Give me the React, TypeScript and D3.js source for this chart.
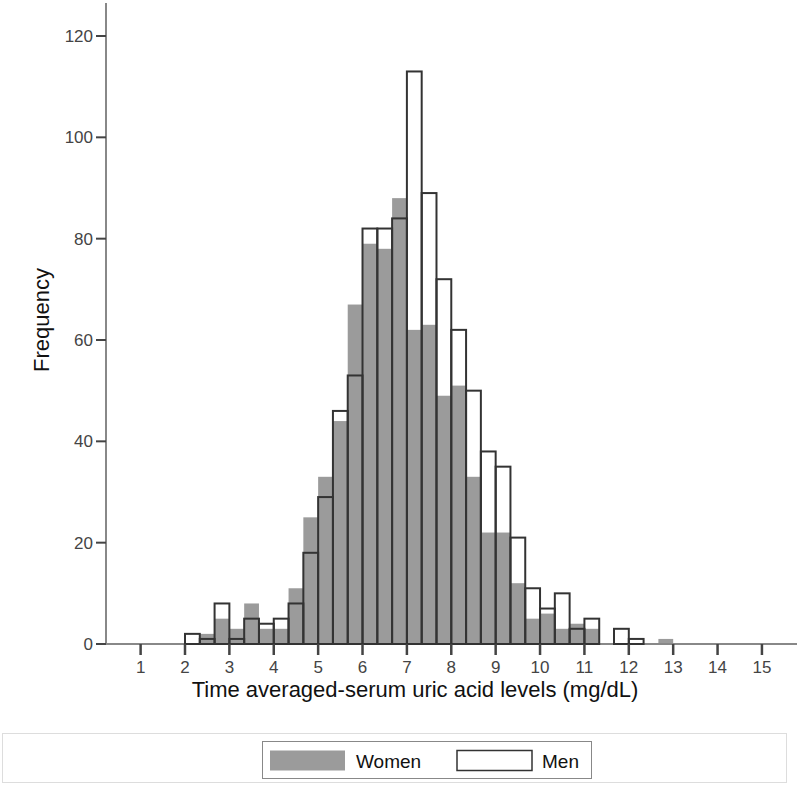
import React, { useEffect, useRef } from "react";
import * as d3 from "d3";

// histogram bins: width 1/3 mg/dL, first bin starts at 2.0
const binStart = 2;
const binWidth = 1 / 3;
const women = [0, 2, 5, 3, 8, 3, 3, 11, 25, 33, 44, 67, 79, 78, 88, 62, 63, 49, 51, 33, 22, 22, 12, 5, 6, 3, 4, 3, 0, 0, 0, 0, 1];
const men = [2, 1, 8, 1, 5, 4, 5, 8, 18, 29, 46, 53, 82, 82, 84, 113, 89, 72, 62, 50, 38, 35, 21, 11, 7, 10, 3, 5, 0, 3, 1, 0, 0];
const xTicks = [1, 2, 3, 4, 5, 6, 7, 8, 9, 10, 11, 12, 13, 14, 15];
const yTicks = [0, 20, 40, 60, 80, 100, 120];
const legendLabels = ["Women", "Men"];

const FONT = "'Liberation Sans', Arial, sans-serif";

export default function App() {
  const ref = useRef<SVGSVGElement>(null);

  useEffect(() => {
    document.body.style.margin = "0";
    const svg = d3.select(ref.current);
    svg.selectAll("*").remove();

    const w = 800, h = 785;
    svg.attr("width", w).attr("height", h);

    const x = d3.scaleLinear().domain([0.22, 15.79]).range([106, 797]);
    const y = d3.scaleLinear().domain([0, 120]).range([644, 36]);

    const binsW = women.map((v, i) => ({ x0: binStart + i * binWidth, v }));
    const binsM = men.map((v, i) => ({ x0: binStart + i * binWidth, v }));

    // women: filled grey
    svg.append("g")
      .selectAll("rect")
      .data(binsW.filter((d) => d.v > 0))
      .enter()
      .append("rect")
      .attr("x", (d) => x(d.x0))
      .attr("y", (d) => y(d.v))
      .attr("width", (d) => x(d.x0 + binWidth) - x(d.x0))
      .attr("height", (d) => y(0) - y(d.v))
      .attr("fill", "#9b9b9b");

    // axes lines
    svg.append("line")
      .attr("x1", 106).attr("x2", 106)
      .attr("y1", y(126.5)).attr("y2", y(0))
      .attr("stroke", "#888").attr("stroke-width", 2);
    svg.append("line")
      .attr("x1", 106).attr("x2", 797)
      .attr("y1", y(0)).attr("y2", y(0))
      .attr("stroke", "#888").attr("stroke-width", 2);

    // men: outlines only
    svg.append("g")
      .selectAll("rect")
      .data(binsM.filter((d) => d.v > 0))
      .enter()
      .append("rect")
      .attr("x", (d) => x(d.x0))
      .attr("y", (d) => y(d.v))
      .attr("width", (d) => x(d.x0 + binWidth) - x(d.x0))
      .attr("height", (d) => y(0) - y(d.v))
      .attr("fill", "none")
      .attr("stroke", "#333")
      .attr("stroke-width", 2);

    // y ticks
    const gy = svg.append("g");
    gy.selectAll("line")
      .data(yTicks)
      .enter()
      .append("line")
      .attr("x1", 96).attr("x2", 106)
      .attr("y1", (d) => y(d)).attr("y2", (d) => y(d))
      .attr("stroke", "#444").attr("stroke-width", 2);
    gy.selectAll("text")
      .data(yTicks)
      .enter()
      .append("text")
      .attr("x", 93)
      .attr("y", (d) => y(d))
      .attr("dy", "0.36em")
      .attr("text-anchor", "end")
      .attr("font-family", FONT)
      .attr("font-size", 17)
      .attr("fill", "#444")
      .text((d) => d);

    // x ticks
    const gx = svg.append("g");
    gx.selectAll("line")
      .data(xTicks)
      .enter()
      .append("line")
      .attr("x1", (d) => x(d)).attr("x2", (d) => x(d))
      .attr("y1", y(0)).attr("y2", y(0) + 11)
      .attr("stroke", "#444").attr("stroke-width", 2.5);
    gx.selectAll("text")
      .data(xTicks)
      .enter()
      .append("text")
      .attr("x", (d) => x(d))
      .attr("y", 673)
      .attr("text-anchor", "middle")
      .attr("font-family", FONT)
      .attr("font-size", 17)
      .attr("fill", "#444")
      .text((d) => d);

    // axis titles
    svg.append("text")
      .attr("x", 415).attr("y", 697)
      .attr("text-anchor", "middle")
      .attr("font-family", FONT)
      .attr("font-size", 22)
      .attr("fill", "#111")
      .text("Time averaged-serum uric acid levels (mg/dL)");
    svg.append("text")
      .attr("transform", "translate(49,320) rotate(-90)")
      .attr("text-anchor", "middle")
      .attr("font-family", FONT)
      .attr("font-size", 22)
      .attr("fill", "#111")
      .text("Frequency");

    // legend frame
    svg.append("rect")
      .attr("x", 2.5).attr("y", 733.5)
      .attr("width", 784).attr("height", 49)
      .attr("fill", "none").attr("stroke", "#ddd");
    svg.append("rect")
      .attr("x", 262.5).attr("y", 741.5)
      .attr("width", 329).attr("height", 37)
      .attr("fill", "#fff").attr("stroke", "#888");

    const lg = svg.append("g");
    const items = [
      { label: legendLabels[0], sx: 270, tx: 356, fill: "#9b9b9b", stroke: "none" },
      { label: legendLabels[1], sx: 457, tx: 542, fill: "#fff", stroke: "#333" },
    ];
    lg.selectAll("rect")
      .data(items)
      .enter()
      .append("rect")
      .attr("x", (d) => d.sx)
      .attr("y", 750.5)
      .attr("width", 75)
      .attr("height", 20)
      .attr("fill", (d) => d.fill)
      .attr("stroke", (d) => d.stroke)
      .attr("stroke-width", 1.5);
    lg.selectAll("text")
      .data(items)
      .enter()
      .append("text")
      .attr("x", (d) => d.tx)
      .attr("y", 768)
      .attr("font-family", FONT)
      .attr("font-size", 19)
      .attr("fill", "#111")
      .text((d) => d.label);
  }, []);

  return <svg ref={ref} style={{ display: "block" }}></svg>;
}
